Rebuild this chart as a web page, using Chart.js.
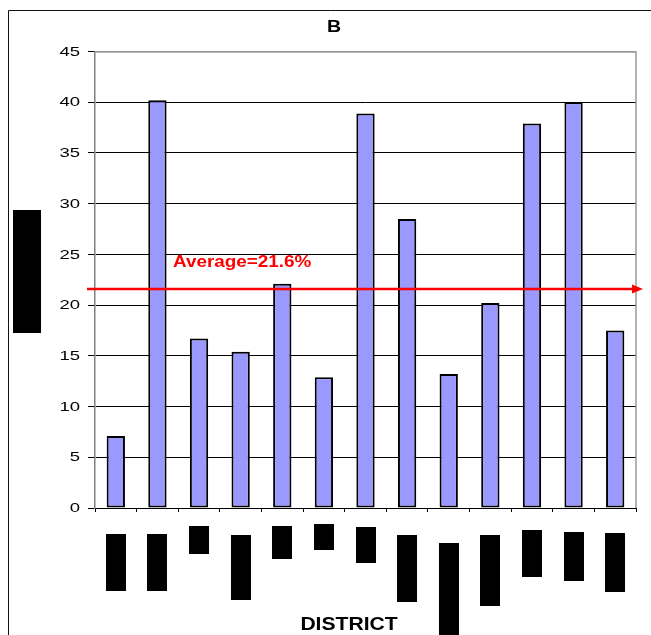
<!DOCTYPE html>
<html>
<head>
<meta charset="utf-8">
<script src="https://cdn.jsdelivr.net/npm/chart.js@4.4.1/dist/chart.umd.min.js"></script>
<style>
  html, body { margin: 0; padding: 0; background: #fff; }
  canvas { display: block; }
</style>
</head>
<body>
<canvas id="chart" width="651" height="635"></canvas>
<script>
// ---- data ----
const districts = ['D01', 'D02', 'D03', 'D04', 'D05', 'D06', 'D07', 'D08', 'D09', 'D10', 'D11', 'D12', 'D13'];
const shares = [7.1, 40.2, 16.7, 15.4, 22.1, 12.9, 38.9, 28.5, 13.2, 20.2, 37.9, 40.0, 17.5];
const yTickValues = [0, 5, 10, 15, 20, 25, 30, 35, 40, 45];
const averageShare = 21.6;
const averageLabel = 'Average=21.6%';
const chartTitle = 'B';
const xAxisTitle = 'DISTRICT';

// ---- styling ----
// masked category names: block extents below the x axis (px from the axis line)
const nameBlockTop = [26, 26, 18, 27, 18, 16, 19, 27, 35, 27, 22, 24, 25];
const nameBlockBottom = [83, 83, 46, 92, 51, 42, 55, 94, 140, 98, 69, 73, 84];
const BAR_FILL = '#9999FF';
const AVG_RED = '#FF0000';
const FONT = '"Liberation Sans", Arial, sans-serif';

function stretchedText(ctx, text, x, y, font, sx, align, baseline, color) {
  ctx.save();
  ctx.font = font;
  ctx.fillStyle = color;
  ctx.textAlign = align;
  ctx.textBaseline = baseline;
  ctx.translate(x, y);
  ctx.scale(sx, 1);
  ctx.fillText(text, 0, 0);
  ctx.restore();
}

const decor = {
  id: 'decor',
  beforeDraw(chart) {
    const ctx = chart.ctx;
    ctx.save();
    ctx.fillStyle = '#fff';
    ctx.fillRect(0, 0, chart.width, chart.height);
    // outer chart frame
    ctx.strokeStyle = '#111';
    ctx.lineWidth = 1;
    ctx.beginPath();
    ctx.moveTo(8.5, chart.height + 5);
    ctx.lineTo(8.5, 10.5);
    ctx.lineTo(chart.width + 5, 10.5);
    ctx.stroke();
    ctx.restore();
  },
  beforeDatasetsDraw(chart) {
    const ctx = chart.ctx;
    const a = chart.chartArea;
    ctx.save();
    ctx.strokeStyle = '#999';
    ctx.lineWidth = 1.5;
    ctx.beginPath();
    ctx.moveTo(a.right, a.bottom);
    ctx.lineTo(a.right, a.top + 0.5);
    ctx.lineTo(a.left, a.top + 0.5);
    ctx.stroke();
    ctx.restore();
  },
  afterDatasetsDraw(chart) {
    const ctx = chart.ctx;
    const a = chart.chartArea;
    const yScale = chart.scales.y;
    const y = yScale.getPixelForValue(averageShare);
    const x0 = a.left - 8;
    const tip = a.right + 7;
    ctx.save();
    ctx.strokeStyle = AVG_RED;
    ctx.fillStyle = AVG_RED;
    ctx.lineWidth = 2.5;
    ctx.beginPath();
    ctx.moveTo(x0, y);
    ctx.lineTo(tip - 9, y);
    ctx.stroke();
    ctx.beginPath();
    ctx.moveTo(tip, y);
    ctx.lineTo(tip - 11, y - 4.5);
    ctx.lineTo(tip - 11, y + 4.5);
    ctx.closePath();
    ctx.fill();
    ctx.restore();
    stretchedText(ctx, averageLabel, a.left + 78, y - 22, 'bold 16px ' + FONT, 1.18, 'left', 'alphabetic', AVG_RED);
  },
  afterDraw(chart) {
    const ctx = chart.ctx;
    const a = chart.chartArea;
    const yScale = chart.scales.y;
    const xScale = chart.scales.x;

    // y tick labels
    yScale.ticks.forEach(t => {
      const py = yScale.getPixelForValue(t.value);
      stretchedText(ctx, String(t.value), a.left - 15, py + 0.5, '13.5px ' + FONT, 1.37, 'right', 'middle', '#000');
    });

    // masked category names
    ctx.save();
    ctx.fillStyle = '#000';
    districts.forEach((d, i) => {
      const cx = xScale.getPixelForValue(i);
      const top = a.bottom + nameBlockTop[i];
      const bottom = Math.min(a.bottom + nameBlockBottom[i], chart.height);
      ctx.fillRect(Math.round(cx - 10), top, 20, bottom - top);
    });
    // masked y-axis title
    ctx.fillRect(13, 210, 28, 123);
    ctx.restore();

    // chart title and x-axis title
    stretchedText(ctx, chartTitle, 334, 27, 'bold 17px ' + FONT, 1.15, 'center', 'middle', '#000');
    stretchedText(ctx, xAxisTitle, 349, 630, 'bold 19px ' + FONT, 1.11, 'center', 'alphabetic', '#000');
  }
};

new Chart(document.getElementById('chart'), {
  type: 'bar',
  data: {
    labels: districts,
    datasets: [{
      data: shares,
      backgroundColor: BAR_FILL,
      borderColor: '#000',
      borderWidth: 2,
      borderSkipped: false,
      categoryPercentage: 1,
      barPercentage: 0.44
    }]
  },
  options: {
    responsive: false,
    animation: false,
    devicePixelRatio: 1,
    layout: { padding: { top: 51.5, right: 15, bottom: 0, left: 0 } },
    plugins: {
      legend: { display: false },
      tooltip: { enabled: false },
      title: { display: false }
    },
    scales: {
      x: {
        type: 'category',
        offset: true,
        grid: { offset: true, drawOnChartArea: false, drawTicks: true, tickLength: 4, color: '#000' },
        border: { color: '#000', width: 1 },
        ticks: { display: false },
        afterFit(s) { s.height = 127; }
      },
      y: {
        min: 0,
        max: 45,
        afterBuildTicks(s) { s.ticks = yTickValues.map(v => ({ value: v })); },
        grid: {
          color: c => (c.tick && c.tick.value === 45 ? '#999' : '#000'),
          tickColor: '#000',
          tickLength: 7,
          lineWidth: 1
        },
        border: { color: '#808080', width: 1.5 },
        ticks: { display: false },
        afterFit(s) { s.width = 95; }
      }
    }
  },
  plugins: [decor]
});
</script>
</body>
</html>
